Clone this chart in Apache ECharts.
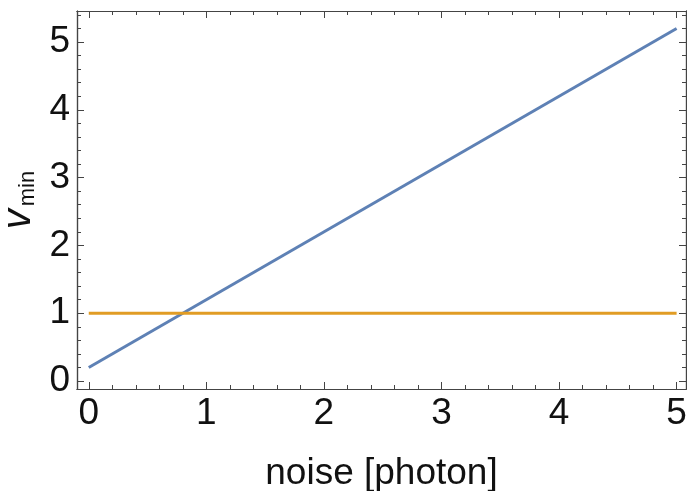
<!DOCTYPE html>
<html>
<head>
<meta charset="utf-8">
<script src="https://cdn.jsdelivr.net/npm/echarts@6/dist/echarts.min.js"></script>
<style>
  html, body { margin: 0; padding: 0; background: #fff; }
  #chart { width: 687px; height: 491px; }
</style>
</head>
<body>
<div id="chart"></div>
<script>
// data
const noise   = [0, 5];
const vminFit = [0.2, 5.2];   // blue
const vminRef = [1, 1];       // orange

const xMajor = [0, 1, 2, 3, 4, 5];
const xMinor = [0.2, 0.4, 0.6, 0.8, 1.2, 1.4, 1.6, 1.8, 2.2, 2.4, 2.6, 2.8,
                3.2, 3.4, 3.6, 3.8, 4.2, 4.4, 4.6, 4.8];
const yMajor = [0, 1, 2, 3, 4, 5];
const yMinor = [0.2, 0.4, 0.6, 0.8, 1.2, 1.4, 1.6, 1.8, 2.2, 2.4, 2.6, 2.8,
                3.2, 3.4, 3.6, 3.8, 4.2, 4.4, 4.6, 4.8, 5.2, 5.4];

const FONT  = 'Liberation Sans, Arial, sans-serif';
const FRAME = '#444';
const X_MIN = -0.1, X_MAX = 5.08;
const Y_MIN = -0.118, Y_MAX = 5.457;

const chart = echarts.init(document.getElementById('chart'), null, { renderer: 'canvas' });

// one axis per (side, tick size) so major/minor ticks get different lengths
function xAx(pos, ticks, len, labels, name) {
  return {
    type: 'value', position: pos, min: X_MIN, max: X_MAX,
    name: name || '', nameLocation: 'middle', nameGap: 66,
    nameTextStyle: { fontFamily: FONT, fontSize: 37, color: '#111' },
    axisLine: { show: true, onZero: false, lineStyle: { color: FRAME, width: 1.2 } },
    axisTick: { show: true, inside: true, length: len, customValues: ticks,
                lineStyle: { color: FRAME, width: 1 } },
    axisLabel: { show: labels, customValues: ticks, margin: 6,
                 fontFamily: FONT, fontSize: 37, color: '#111' },
    splitLine: { show: false },
  };
}
function yAx(pos, ticks, len, labels, name) {
  return {
    type: 'value', position: pos, min: Y_MIN, max: Y_MAX,
    name: name || '', nameLocation: 'middle', nameGap: 36, nameRotate: 90,
    nameTextStyle: {
      fontFamily: FONT, color: '#111',
      rich: {
        v: { fontFamily: FONT, fontSize: 40, fontStyle: 'italic', color: '#111', lineHeight: 40 },
        s: { fontFamily: FONT, fontSize: 22, color: '#111', lineHeight: 13, verticalAlign: 'bottom',
             padding: [0, 0, 0, 3] },
      },
    },
    axisLine: { show: true, onZero: false, lineStyle: { color: FRAME, width: 1.2 } },
    axisTick: { show: true, inside: true, length: len, customValues: ticks,
                lineStyle: { color: FRAME, width: 1 } },
    axisLabel: { show: labels, customValues: ticks, margin: 7,
                 fontFamily: FONT, fontSize: 37, color: '#111' },
    splitLine: { show: false },
  };
}

chart.setOption({
  animation: false,
  backgroundColor: '#fff',
  grid: { left: 77, right: 1, top: 11, bottom: 102, containLabel: false, outerBoundsMode: 'none' },
  xAxis: [
    xAx('bottom', xMajor, 7, true, 'noise [photon]'),
    xAx('bottom', xMinor, 4, false),
    xAx('top', xMajor, 7, false),
    xAx('top', xMinor, 4, false),
  ],
  yAxis: [
    yAx('left', yMajor, 7, true, '{v|v}{s|min}'),
    yAx('left', yMinor, 4, false),
    yAx('right', yMajor, 7, false),
    yAx('right', yMinor, 4, false),
  ],
  series: [
    {
      type: 'line', showSymbol: false, xAxisIndex: 0, yAxisIndex: 0,
      data: noise.map((x, i) => [x, vminFit[i]]),
      lineStyle: { color: '#5e81b5', width: 3 },
    },
    {
      type: 'line', showSymbol: false, xAxisIndex: 0, yAxisIndex: 0,
      data: noise.map((x, i) => [x, vminRef[i]]),
      lineStyle: { color: '#e19c24', width: 3 },
    },
  ],
});
</script>
</body>
</html>
